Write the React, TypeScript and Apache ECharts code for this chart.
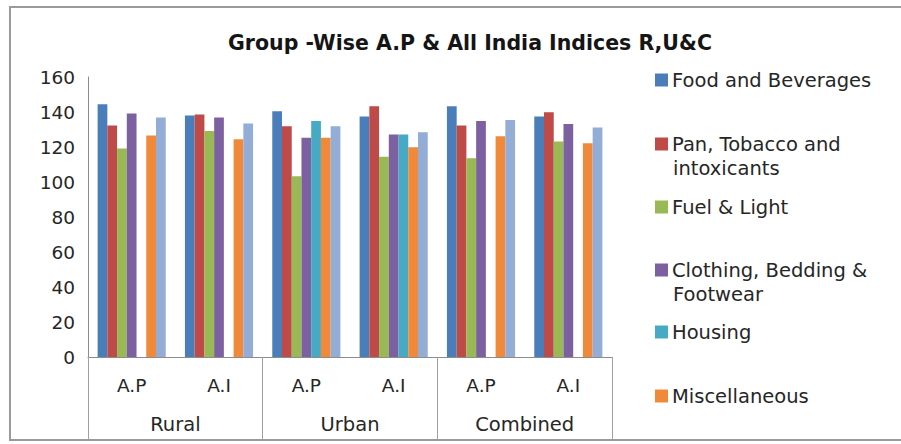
import React, { useEffect, useRef } from "react";
import * as echarts from "echarts";

const subCategories = ["A.P", "A.I", "A.P", "A.I", "A.P", "A.I"];
const groups = ["Rural", "Urban", "Combined"];
const yTicks = { min: 0, max: 160, interval: 20 };

const seriesNames = [
  "Food and Beverages",
  "Pan, Tobacco and intoxicants",
  "Fuel & Light",
  "Clothing, Bedding & Footwear",
  "Housing",
  "Miscellaneous",
  "General Index",
];

const foodBeverages = [144.5, 138.0, 140.5, 137.5, 143.3, 137.5];
const panTobacco = [132.3, 138.6, 131.8, 143.3, 132.3, 139.9];
const fuelLight = [119.2, 129.1, 103.3, 114.5, 113.6, 123.2];
const clothing = [139.2, 136.9, 125.3, 127.2, 134.8, 133.1];
const housing = [null, null, 134.8, 127.2, null, null];
const miscellaneous = [126.6, 124.4, 125.3, 119.8, 126.1, 122.1];
const generalIndex = [136.9, 133.5, 131.8, 128.5, 135.4, 131.2];

const seriesValues = [foodBeverages, panTobacco, fuelLight, clothing, housing, miscellaneous, generalIndex];
const colors = ["#4A7EBB", "#BE4B48", "#98B954", "#7D60A0", "#46AAC5", "#F08A3A", "#93ADD6"];

const legendFirstLines = ["Food and Beverages", "Pan, Tobacco and", "Fuel & Light", "Clothing, Bedding &", "Housing", "Miscellaneous"];
const legendSecondLines = ["", "intoxicants", "", "Footwear", "", ""];
const legendCenters = [80, 144, 207, 270, 332, 396];

const FONT = "'DejaVu Sans'";

export default function App() {
  const ref = useRef<HTMLDivElement>(null);
  useEffect(() => {
    if (!ref.current) return;
    const chart = echarts.init(ref.current, null, { renderer: "svg" });
    const legends: any[] = [];
    const graphics: any[] = [
      {
        type: "rect",
        shape: { x: 10, y: 7, width: 900, height: 433 },
        style: { fill: "none", stroke: "#9A9A9A", lineWidth: 2 },
        silent: true,
        z: -1,
      },
    ];
    legendFirstLines.forEach((first, i) => {
      legends.push({
        data: [seriesNames[i]],
        left: 655,
        top: legendCenters[i] - 12,
        orient: "vertical",
        icon: "rect",
        itemWidth: 13,
        itemHeight: 13,
        itemGap: 0,
        padding: 0,
        selectedMode: false,
        formatter: () => first,
        textStyle: { fontFamily: FONT, fontSize: 19.5, color: "#262626", lineHeight: 24, padding: [0, 0, 0, -1] },
      });
      if (legendSecondLines[i]) {
        graphics.push({
          type: "text",
          left: 673,
          top: legendCenters[i] + 24 - 12,
          style: { text: legendSecondLines[i], font: `19.5px ${FONT}`, fill: "#262626", lineHeight: 24 },
        });
      }
    });

    chart.setOption({
      animation: false,
      backgroundColor: "#fff",
      title: {
        text: "Group -Wise A.P & All India Indices R,U&C",
        left: 465,
        top: 27,
        textAlign: "center",
        textStyle: { fontFamily: FONT, fontSize: 20.5, fontWeight: "bold", color: "#151515" },
      },
      legend: legends,
      graphic: graphics,
      grid: { left: 88, right: 289, top: 77, bottom: 87, containLabel: false },
      xAxis: [
        {
          type: "category",
          data: subCategories,
          axisLine: { lineStyle: { color: "#8C8C8C", width: 1 } },
          axisTick: { show: false },
          axisLabel: { margin: 19, fontFamily: FONT, fontSize: 18.5, color: "#262626", interval: 0 },
        },
        {
          type: "category",
          data: groups,
          position: "bottom",
          axisLine: { show: false },
          axisTick: { show: true, length: 82, interval: 0, lineStyle: { color: "#A0A0A0", width: 1 } },
          axisLabel: { margin: 57, fontFamily: FONT, fontSize: 19.5, color: "#262626", interval: 0 },
        },
      ],
      yAxis: {
        type: "value",
        min: yTicks.min,
        max: yTicks.max,
        interval: yTicks.interval,
        axisLine: { show: true, lineStyle: { color: "#8C8C8C" } },
        axisTick: { show: false },
        splitLine: { show: false },
        axisLabel: { margin: 13, fontFamily: FONT, fontSize: 18.5, color: "#262626" },
      },
      series: seriesValues.map((vals, i) => ({
        name: seriesNames[i],
        type: "bar",
        xAxisIndex: 0,
        data: vals,
        barGap: "0%",
        barCategoryGap: "22%",
        itemStyle: { color: colors[i] },
      })),
    });
    return () => chart.dispose();
  }, []);
  return <div ref={ref} style={{ position: "absolute", left: 0, top: 0, width: 901, height: 444 }} />;
}
